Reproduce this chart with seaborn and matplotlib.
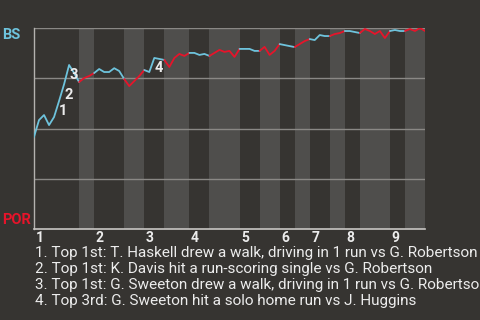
import matplotlib
matplotlib.use("Agg")
import matplotlib.pyplot as plt
import seaborn as sns
import pandas as pd
import numpy as np

# ---- data ----
win_prob = [0.458, 0.542, 0.567, 0.517, 0.557, 0.637, 0.72, 0.816, 0.776, 0.731,
            0.751, 0.761, 0.776, 0.796, 0.781, 0.781, 0.80, 0.786, 0.746, 0.711,
            0.736, 0.761, 0.791, 0.781, 0.851, 0.846, 0.841, 0.806, 0.851, 0.871,
            0.861, 0.876, 0.876, 0.866, 0.871, 0.861, 0.876, 0.891, 0.881, 0.886,
            0.856, 0.896, 0.896, 0.896, 0.886, 0.886, 0.906, 0.866, 0.886, 0.920,
            0.915, 0.910, 0.905, 0.920, 0.935, 0.945, 0.940, 0.965, 0.960, 0.960,
            0.970, 0.975, 0.985, 0.985, 0.980, 0.975, 0.995, 0.985, 0.97, 0.985,
            0.95, 0.985, 0.99, 0.985, 0.985, 0.995, 0.985, 1.0, 0.985]
half_inning_ends = [9, 12, 18, 22, 26, 31, 35, 41, 45, 49, 52, 55, 59, 62, 65, 71, 74, 78]
inning_labels = ["1", "2", "3", "4", "5", "6", "7", "8", "9"]
key_event_index = [5, 6, 7, 24]
key_event_labels = ["1", "2", "3", "4"]
key_event_texts = [
    "1. Top 1st: T. Haskell drew a walk, driving in 1 run vs G. Robertson",
    "2. Top 1st: K. Davis hit a run-scoring single vs G. Robertson",
    "3. Top 1st: G. Sweeton drew a walk, driving in 1 run vs G. Robertson",
    "4. Top 3rd: G. Sweeton hit a solo home run vs J. Huggins",
]
team_top = "BS"
team_bottom = "POR"

# ---- styles ----
BG = "#363431"
BAND = "#4f4e4c"
BLUE = "#6ec3dc"
RED = "#e6142a"
TXT = "#ececec"
GRID = "#8a8885"

sns.set_theme(style="dark")
plt.rcParams['font.family'] = ['Roboto', 'DejaVu Sans']

fig = plt.figure(figsize=(4.8, 3.2), dpi=100, facecolor=BG)
ax = fig.add_axes([34/480, 1-229/320, (425-34)/480, (229-28)/320])
ax.set_facecolor(BG)

n = len(win_prob) - 1
starts = [0] + half_inning_ends[:-1]
for k, (s, e) in enumerate(zip(starts, half_inning_ends)):
    if k % 2 == 1:
        ax.axvspan(s, e, color=BAND, lw=0, zorder=0)

for yv in [0.25, 0.5, 0.75, 1.0]:
    ax.axhline(yv, color=GRID, lw=1.0, zorder=1)

rows = []
for k, (s, e) in enumerate(zip(starts, half_inning_ends)):
    for i in range(s, e + 1):
        rows.append({"x": i, "wp": win_prob[i], "half": k})
df = pd.DataFrame(rows)
for k in range(len(half_inning_ends)):
    sub = df[df["half"] == k]
    sns.lineplot(data=sub, x="x", y="wp", ax=ax, color=BLUE if k % 2 == 0 else RED,
                 lw=1.3, zorder=3, legend=False)

for idx, lab in zip(key_event_index, key_event_labels):
    ax.annotate(lab, (idx, win_prob[idx]), xytext=(3, -7.5), textcoords="offset points",
                ha="center", va="center", color=TXT, fontsize=10.5, fontweight="bold", zorder=4)

ax.set_xlim(0, n)
ax.set_ylim(0, 1)
ax.set_xticks([])
ax.set_yticks([])
ax.set_xlabel("")
ax.set_ylabel("")
for sp in ["top", "right"]:
    ax.spines[sp].set_visible(False)
ax.spines["left"].set_color("#b4b2af")
ax.spines["bottom"].set_color("#c8c6c3")
ax.spines["left"].set_linewidth(1.0)
ax.spines["bottom"].set_linewidth(1.2)

inning_starts = starts[0::2]
for st, lab in zip(inning_starts, inning_labels):
    ax.annotate(lab, (st, 0), xytext=(1.2, -6.8), textcoords="offset points",
                ha="left", va="center", color=TXT, fontsize=10, fontweight="bold",
                annotation_clip=False)

fig.text(2/480, 1-35/320, team_top, color=BLUE, fontsize=10.5, fontweight="bold", va="center", ha="left")
fig.text(2/480, 1-220/320, team_bottom, color=RED, fontsize=10.5, fontweight="bold", va="center", ha="left")

for j, t in enumerate(key_event_texts):
    fig.text(35/480, 1-(253.5+16*j)/320, t, color=TXT, fontsize=10.95, va="center", ha="left")

fig.savefig("out.png", dpi=100, facecolor=BG)
